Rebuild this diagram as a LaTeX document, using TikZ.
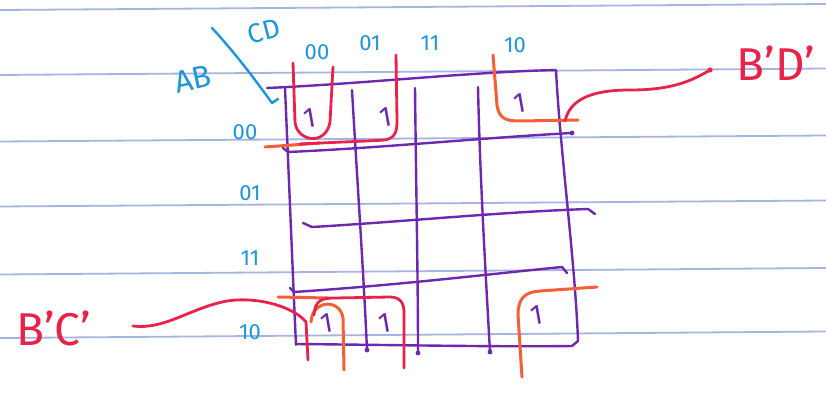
\documentclass[tikz,border=0pt]{standalone}
\usepackage{fontspec}
\setmainfont{Fira Sans}
\definecolor{paperline}{RGB}{165,180,225}
\definecolor{gridpen}{RGB}{110,40,175}
\definecolor{bluepen}{RGB}{30,150,215}
\definecolor{redpen}{RGB}{232,35,75}
\definecolor{orangepen}{RGB}{245,95,55}
\begin{document}
\begin{tikzpicture}[x=1pt,y=-1pt,
  ruled/.style={paperline,line width=1.8pt},
  gridline/.style={gridpen,line width=2.4pt,line cap=round,line join=round},
  redline/.style={redpen,line width=2.8pt,line cap=round,line join=round},
  orangeline/.style={orangepen,line width=3pt,line cap=round,line join=round},
  inkline/.style={bluepen,line width=2.4pt,line cap=round,line join=round},
  varlabel/.style={bluepen,inner sep=0pt,font=\fontsize{22}{22}\selectfont},
  cellone/.style={gridpen,inner sep=0pt,rotate=10,font=\fontsize{28}{28}\selectfont},
  termlabel/.style={redpen,inner sep=0pt,font=\fontsize{46}{46}\selectfont}]
\fill[white] (0,0) rectangle (826,393);
\useasboundingbox (0,0) rectangle (826,393);
% ruled paper
\foreach \a/\b in {10/4, 75/68.5, 141.5/135.5, 206.5/200.5, 274.5/268, 338/331.5}
  \draw[ruled] (0,\a) -- (826,\b);
% grid frame
\draw[gridline] (267,88) .. controls (360,84) and (470,72) .. (556,70)
  .. controls (560,150) and (575,260) .. (578,341) -- (572,346)
  .. controls (500,347) and (400,345) .. (296,344);
\draw[gridline] (285,88) .. controls (289,180) and (293,280) .. (296,345);
% column lines
\draw[gridline] (352,90) .. controls (356,160) and (364,280) .. (367,350);
\draw[gridline] (415,88) .. controls (416,180) and (418,280) .. (418,353);
\draw[gridline] (478,87) .. controls (480,180) and (486,280) .. (490,352);
\foreach \p in {(367,350),(418,353),(490,352)} \fill[gridpen] \p circle (2.4);
% row lines
\draw[gridline] (283,148) -- (288,152) .. controls (380,148) and (480,138) .. (572,133);
\fill[gridpen] (572,133) circle (2.4);
\draw[gridline] (303,223) -- (312,227) .. controls (400,222) and (500,212) .. (588,209) -- (595,214);
\draw[gridline] (290,288) -- (294,292) .. controls (400,285) and (480,275) .. (562,267) -- (567,273);
% ones
\node[cellone] (c00) at (310,118) {1};
\node[cellone] (c01) at (386,117) {1};
\node[cellone] (c02) at (520,103) {1};
\node[cellone] (c30) at (327,323) {1};
\node[cellone] (c31) at (385,323) {1};
\node[cellone] (c32) at (537,315) {1};
% row 00 groups
\draw[redline] (293,63) -- (295,122) .. controls (297,142) and (326,146) .. (330,122) -- (333,67);
\draw[orangeline] (265,147) -- (320,143);
\draw[redline] (300,144) .. controls (340,142) and (370,141) .. (385,140)
  .. controls (396,138) and (397,130) .. (397,120) -- (396,55);
\draw[orangeline] (493,55) -- (497,105) .. controls (499,120) and (508,121) .. (520,121) -- (578,120);
% B'D' connector
\coordinate (bdfoot) at (565,121);
\coordinate (bdtip) at (710,70);
\draw[redline] (bdfoot) .. controls (570,100) and (590,90) .. (630,90)
  .. controls (670,90) and (690,82) .. (bdtip);
\fill[redpen] (bdtip) circle (2.6);
\node[termlabel] (bd) at (776,63) {B'D'};
% row 10 groups
\draw[orangeline] (278,297) -- (328,298);
\draw[orangeline] (311,322) .. controls (312,300) and (340,298) .. (343,318) -- (344,370);
\draw[redline] (314,315) .. controls (315,300) and (322,298) .. (335,298) -- (390,297)
  .. controls (400,297) and (404,303) .. (404,312) -- (404,368);
\draw[orangeline] (522,377) -- (518,315) .. controls (518,298) and (525,292) .. (540,291) -- (597,287);
% B'C' connector
\node[termlabel] (bc) at (54,328) {B'C'};
\coordinate (bcstart) at (133,326);
\coordinate (bcend) at (308,360);
\draw[redline] (bcstart) .. controls (165,330) and (190,308) .. (227,301)
  .. controls (260,296) and (295,308) .. (306,322) -- (bcend);
% corner labels
\draw[inkline] (212,28) .. controls (237,55) and (259,85) .. (272,103) -- (278,99);
\node[bluepen,inner sep=0pt,rotate=12,font=\fontsize{31}{31}\selectfont] (ab) at (193,79) {AB};
\node[bluepen,inner sep=0pt,rotate=15,font=\fontsize{27}{27}\selectfont] (cd) at (264,31) {CD};
% column labels
\node[varlabel] (k00) at (317,52) {00};
\node[varlabel] (k01) at (370,43) {01};
\node[varlabel] (k11) at (430,43) {11};
\node[varlabel] (k10) at (515,45) {10};
% row labels
\node[varlabel] (r00) at (245,132) {00};
\node[varlabel] (r01) at (250,193) {01};
\node[varlabel] (r11) at (250,258) {11};
\node[varlabel] (r10) at (250,332) {10};
\end{tikzpicture}
\end{document}
